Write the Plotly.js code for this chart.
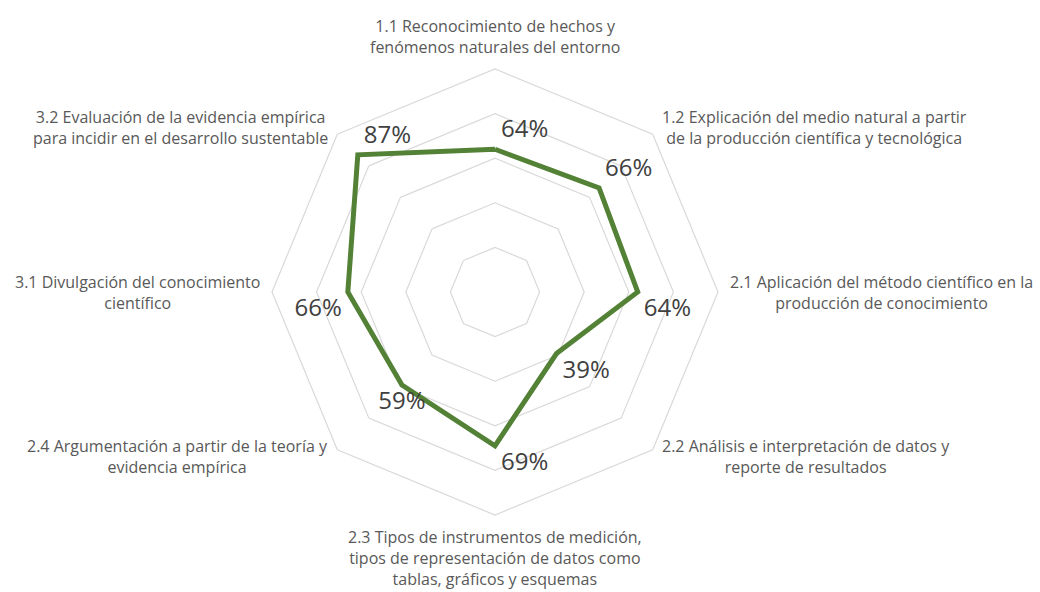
<!DOCTYPE html>
<html>
<head>
<meta charset="utf-8">
<script src="https://cdn.plot.ly/plotly-3.0.1.min.js"></script>
<style>html,body{margin:0;padding:0;background:#fff}#chart{width:1040px;height:592px}</style>
</head>
<body>
<div id="chart"></div>
<script>
const categories = [
  "1.1 Reconocimiento de hechos y<br>fenómenos naturales del entorno",
  "1.2 Explicación del medio natural a partir<br>de la producción científica y tecnológica",
  "2.1 Aplicación del método científico en la<br>producción de conocimiento",
  "2.2 Análisis e interpretación de datos y<br>reporte de resultados",
  "2.3 Tipos de instrumentos de medición,<br>tipos de representación de datos como<br>tablas, gráficos y esquemas",
  "2.4 Argumentación a partir de la teoría y<br>evidencia empírica",
  "3.1 Divulgación del conocimiento<br>científico",
  "3.2 Evaluación de la evidencia empírica<br>para incidir en el desarrollo sustentable"
];
const values = [64, 66, 64, 39, 69, 59, 66, 87];
const labelPositions = ["top right","top right","bottom right","bottom right","bottom right","bottom center","bottom left","top right"];

const theta = categories.concat([categories[0]]);
const r = values.concat([values[0]]);
const text = values.map(v => v + "%").concat([""]);
const tpos = labelPositions.concat(["top right"]);

const trace = {
  type: "scatterpolar",
  r: r,
  theta: theta,
  mode: "lines+markers+text",
  text: text,
  textposition: tpos,
  textfont: {family: "Open Sans, sans-serif", size: 24, color: "#404040"},
  line: {color: "#538135", width: 5},
  marker: {size: 8, color: "rgba(0,0,0,0)"},
  cliponaxis: false,
  hoverinfo: "skip"
};

const cx = 495, cy = 292, rad = 223, W = 1040, H = 592;

// category labels placed just outside each vertex of the outer ring, centred text
const annotations = categories.map((c, i) => {
  const a = i * 2 * Math.PI / categories.length;
  const s = Math.sin(a), co = Math.cos(a);
  let pad = 10;
  if (co > 0.9) pad = 9;
  if (co < -0.9) pad = 9;
  const px = cx + (rad + pad) * s;
  const py = cy - (rad + pad) * co;
  return {
    xref: "paper", yref: "paper",
    x: px / W, y: 1 - py / H,
    text: c,
    showarrow: false,
    align: "center",
    xanchor: s > 0.1 ? "left" : (s < -0.1 ? "right" : "center"),
    yanchor: co > 0.9 ? "bottom" : (co < -0.9 ? "top" : "middle"),
    font: {family: "Open Sans, sans-serif", size: 16, color: "#595959"}
  };
});

const layout = {
  width: W, height: H,
  margin: {l: 0, r: 0, t: 0, b: 0},
  paper_bgcolor: "#ffffff",
  showlegend: false,
  font: {family: "Open Sans, sans-serif", color: "#595959"},
  annotations: annotations,
  polar: {
    domain: {x: [(cx - rad) / W, (cx + rad) / W], y: [(H - cy - rad) / H, (H - cy + rad) / H]},
    gridshape: "linear",
    bgcolor: "rgba(0,0,0,0)",
    radialaxis: {
      range: [0, 100],
      tickvals: [20, 40, 60, 80, 100],
      showticklabels: false,
      ticks: "",
      showline: false,
      gridcolor: "#d9d9d9",
      gridwidth: 1.2
    },
    angularaxis: {
      direction: "clockwise",
      rotation: 90,
      showgrid: false,
      showline: true,
      linecolor: "#d9d9d9",
      linewidth: 1.2,
      ticks: "",
      showticklabels: false
    }
  }
};

Plotly.newPlot("chart", [trace], layout, {displayModeBar: false, staticPlot: true});
</script>
</body>
</html>
